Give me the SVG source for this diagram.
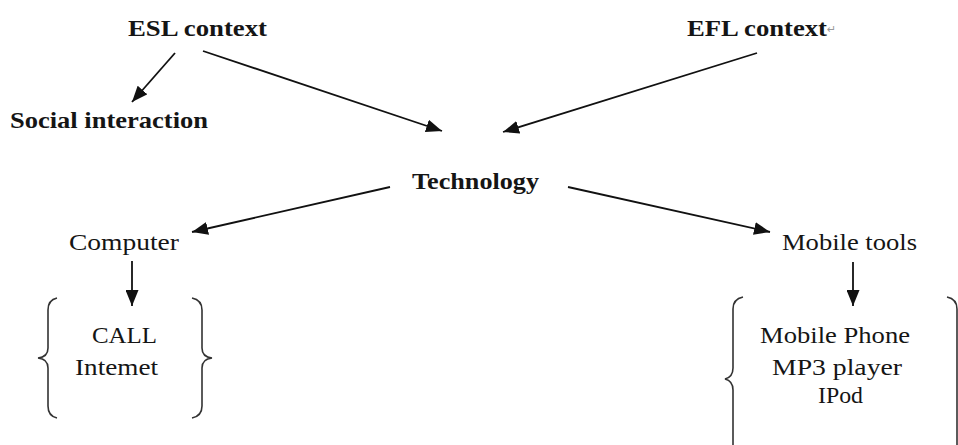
<svg xmlns="http://www.w3.org/2000/svg" width="958" height="445" viewBox="0 0 958 445">
<defs>
<marker id="ah" markerUnits="userSpaceOnUse" markerWidth="17" markerHeight="13" refX="16" refY="6.5" orient="auto">
<path d="M0,0 L16,6.5 L0,13 Z" fill="#111"/>
</marker>
<style>
.t{font-family:"Liberation Serif","Times New Roman",Times,serif;font-size:24px;fill:#151515}
.b{font-weight:bold}
.c{stroke:#111;stroke-width:1.8;fill:none;marker-end:url(#ah)}
.br{stroke:#333;stroke-width:1.6;fill:none}
</style>
</defs>
<rect width="958" height="445" fill="#fff"/>
<g id="esl"><text class="t b" x="128" y="36" textLength="139" lengthAdjust="spacingAndGlyphs">ESL context</text></g>
<g id="efl"><text class="t b" x="687" y="36" textLength="140" lengthAdjust="spacingAndGlyphs">EFL context</text><text x="827" y="33" font-family="DejaVu Sans, sans-serif" font-size="11" fill="#999">↵</text></g>
<g id="social"><text class="t b" x="10" y="128" textLength="198" lengthAdjust="spacingAndGlyphs">Social interaction</text></g>
<g id="technology"><text class="t b" x="412" y="189" textLength="127" lengthAdjust="spacingAndGlyphs">Technology</text></g>
<g id="computer"><text class="t" x="69" y="250" textLength="110" lengthAdjust="spacingAndGlyphs">Computer</text></g>
<g id="mobile"><text class="t" x="782" y="250" textLength="135" lengthAdjust="spacingAndGlyphs">Mobile tools</text></g>
<g id="computer-items">
<path class="br" d="M57,298 Q48,300 48,310 L48,348 Q48,357 38,358 Q48,359 48,368 L48,406 Q48,416 57,418"/>
<path class="br" d="M192,298 Q202,300 202,310 L202,348 Q202,357 212,358 Q202,359 202,368 L202,406 Q202,416 192,418"/>
<text class="t" x="92" y="343" textLength="65" lengthAdjust="spacingAndGlyphs">CALL</text>
<text class="t" x="75" y="375" textLength="83" lengthAdjust="spacingAndGlyphs">Intemet</text>
</g>
<g id="mobile-items">
<path class="br" d="M743,297 Q733,299 733,309 L733,368 Q733,377 725,379 Q733,381 733,390 L733,450"/>
<path class="br" d="M947,297 Q957,299 957,309 L957,450"/>
<text class="t" x="760" y="343" textLength="150" lengthAdjust="spacingAndGlyphs">Mobile Phone</text>
<text class="t" x="772" y="375" textLength="130" lengthAdjust="spacingAndGlyphs">MP3 player</text>
<text class="t" x="818" y="403" textLength="45" lengthAdjust="spacingAndGlyphs">IPod</text>
</g>
<g id="connectors">
<line class="c" x1="175" y1="53" x2="132" y2="102"/>
<line class="c" x1="203" y1="51" x2="442" y2="131"/>
<line class="c" x1="757" y1="53" x2="503" y2="132"/>
<line class="c" x1="390" y1="187" x2="192" y2="232"/>
<line class="c" x1="568" y1="187" x2="770" y2="232"/>
<line class="c" x1="132" y1="261" x2="132" y2="306"/>
<line class="c" x1="853" y1="262" x2="853" y2="306"/>
</g>
</svg>
